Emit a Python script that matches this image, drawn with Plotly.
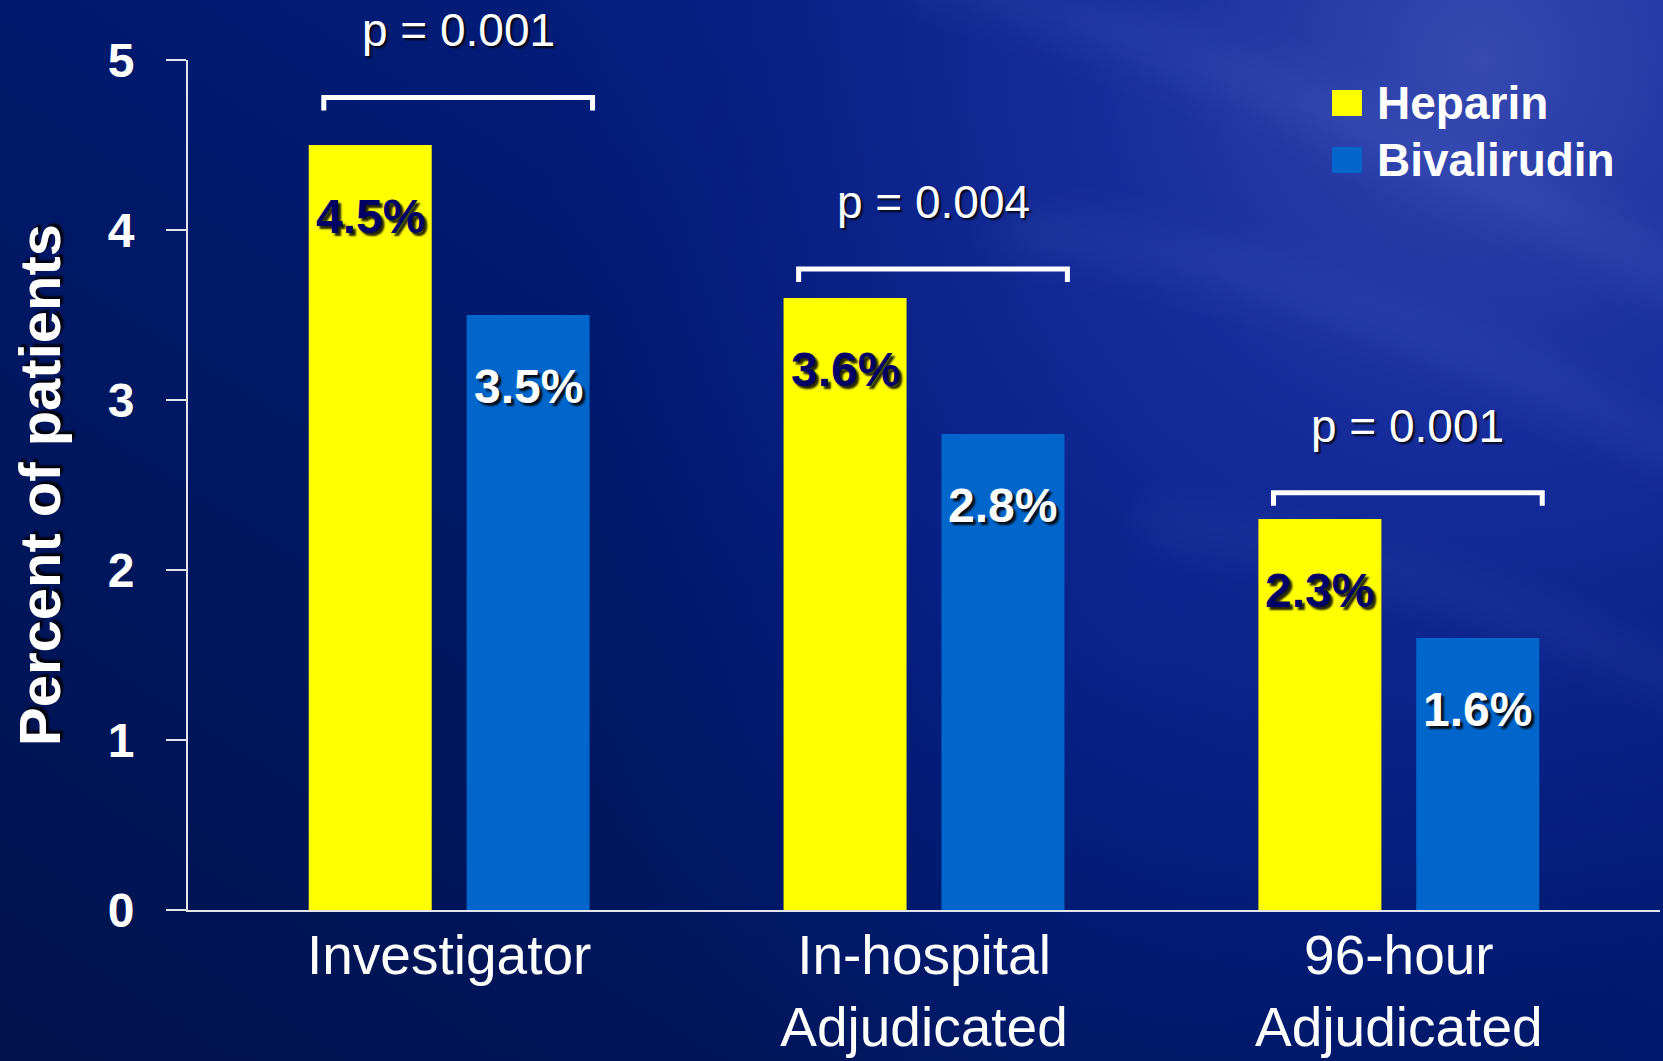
import base64
import plotly.graph_objects as go

# ---- data -------------------------------------------------------------
categories = ["Investigator", "In-hospital<br>Adjudicated", "96-hour<br>Adjudicated"]
heparin = [4.5, 3.6, 2.3]
bivalirudin = [3.5, 2.8, 1.6]
p_values = ["p = 0.001", "p = 0.004", "p = 0.001"]
y_ticks = [0, 1, 2, 3, 4, 5]

# height of each significance bracket (in axis units)
bracket_levels = [4.78, 3.77, 2.455]

# ---- geometry -----------------------------------------------------------
W, H = 1663, 1061
ML, MR, MT, MB = 188, 3, 60, 151
PW, PH = W - ML - MR, H - MT - MB
X_RANGE = [-0.55, 2.55]
Y_RANGE = [0, 5]
BARGAP = 0.335
BARGROUPGAP = 0.221
OFFSET = (1 - BARGAP) / 4          # centre offset of each bar in a group
PX_PER_Y = PH / (Y_RANGE[1] - Y_RANGE[0])

FONT = "Arial, 'Liberation Sans', Helvetica, sans-serif"
YELLOW = "#FFFF00"
BLUE = "#0066CC"
AXIS = "#e4e4ec"


def px_x(px):
    return (px - ML) / PW


def px_y(py):
    return (MT + PH - py) / PH


# ---- slide background ---------------------------------------------------
bg_svg = f"""<svg xmlns="http://www.w3.org/2000/svg" width="{W}" height="{H}" viewBox="0 0 {W} {H}">
<defs>
<linearGradient id="base" x1="0" y1="1" x2="1" y2="0">
<stop offset="0" stop-color="#00134c"/>
<stop offset="0.45" stop-color="#001868"/>
<stop offset="1" stop-color="#0a2394"/>
</linearGradient>
<radialGradient id="glow" cx="1480" cy="60" r="950" gradientUnits="userSpaceOnUse">
<stop offset="0" stop-color="#3a4cb2" stop-opacity="0.95"/>
<stop offset="0.4" stop-color="#1e32a6" stop-opacity="0.7"/>
<stop offset="1" stop-color="#0b2090" stop-opacity="0"/>
</radialGradient>
<radialGradient id="mid" cx="1150" cy="600" r="600" gradientUnits="userSpaceOnUse">
<stop offset="0" stop-color="#0a2496" stop-opacity="0.6"/>
<stop offset="1" stop-color="#0a2496" stop-opacity="0"/>
</radialGradient>
<filter id="soft" x="-20%" y="-20%" width="140%" height="140%"><feGaussianBlur stdDeviation="20"/></filter>
</defs>
<rect width="{W}" height="{H}" fill="url(#base)"/>
<rect width="{W}" height="{H}" fill="url(#mid)"/>
<rect width="{W}" height="{H}" fill="url(#glow)"/>
<g filter="url(#soft)" fill="none" stroke="#8ea2f0" stroke-opacity="0.09">
<path d="M 900 -40 C 1150 40, 1400 120, 1720 300" stroke-width="50"/>
<path d="M 1000 230 C 1250 250, 1450 330, 1720 470" stroke-width="40"/>
<path d="M 1150 520 C 1350 540, 1500 600, 1720 700" stroke-width="30"/>
</g>
</svg>"""
bg_uri = "data:image/svg+xml;base64," + base64.b64encode(bg_svg.encode()).decode()

# ---- bars ---------------------------------------------------------------
x_pos = list(range(len(categories)))
fig = go.Figure()
fig.add_trace(go.Bar(x=x_pos, y=heparin, name="Heparin",
                     marker=dict(color=YELLOW, line=dict(width=0)), showlegend=False))
fig.add_trace(go.Bar(x=x_pos, y=bivalirudin, name="Bivalirudin",
                     marker=dict(color=BLUE, line=dict(width=0)), showlegend=False))

shapes = []
annotations = []

# value labels inside the bars
for i, v in enumerate(heparin):
    annotations.append(dict(
        x=i - OFFSET, y=v, xref="x", yref="y", yshift=-71, showarrow=False,
        text=f"{v:.1f}%", yanchor="middle",
        font=dict(family=FONT, size=48, weight="bold", color="#000066",
                  shadow="3px 3px 2px rgba(0,0,0,0.85)")))
for i, v in enumerate(bivalirudin):
    annotations.append(dict(
        x=i + OFFSET, y=v, xref="x", yref="y", yshift=-71, showarrow=False,
        text=f"{v:.1f}%", yanchor="middle",
        font=dict(family=FONT, size=48, weight="bold", color="white",
                  shadow="3px 3px 2px rgba(0,0,0,0.85)")))

# significance brackets with p-values
drop = 13 / PX_PER_Y
for i, (lvl, ptxt) in enumerate(zip(bracket_levels, p_values)):
    x0, x1 = i - 0.264, i + 0.302
    shapes.append(dict(
        type="path", xref="x", yref="y",
        path=f"M {x0},{lvl - drop} L {x0},{lvl} L {x1},{lvl} L {x1},{lvl - drop}",
        line=dict(color="white", width=5), layer="above"))
    annotations.append(dict(
        x=(x0 + x1) / 2, y=lvl, xref="x", yref="y", yshift=67, showarrow=False,
        text=ptxt, yanchor="middle",
        font=dict(family=FONT, size=46, color="white",
                  shadow="2px 2px 2px rgba(0,0,0,0.8)")))

# boundary ticks at both ends of the category axis
for xp in (0, 1):
    shapes.append(dict(type="line", xref="paper", yref="y", x0=xp, x1=xp,
                       y0=0, y1=-18 / PX_PER_Y, line=dict(color=AXIS, width=2)))

# legend
legend_items = [("Heparin", YELLOW, 90, 116), ("Bivalirudin", BLUE, 147, 173)]
for name, color, top, bottom in legend_items:
    shapes.append(dict(type="rect", xref="paper", yref="paper",
                       x0=px_x(1332), x1=px_x(1362), y0=px_y(bottom), y1=px_y(top),
                       fillcolor=color, line=dict(width=0)))
    annotations.append(dict(
        x=px_x(1375), y=px_y((top + bottom) / 2), xref="paper", yref="paper",
        xanchor="left", yanchor="middle", showarrow=False, text=name,
        font=dict(family=FONT, size=46, weight="bold", color="white")))

fig.update_layout(
    width=W, height=H,
    margin=dict(l=ML, r=MR, t=MT, b=MB, autoexpand=False),
    paper_bgcolor="#00166a",
    plot_bgcolor="rgba(0,0,0,0)",
    barmode="group", bargap=BARGAP, bargroupgap=BARGROUPGAP,
    showlegend=False,
    images=[dict(source=bg_uri, xref="paper", yref="paper",
                 x=-ML / PW, y=1 + MT / PH, sizex=W / PW, sizey=H / PH,
                 xanchor="left", yanchor="top", sizing="stretch", layer="below")],
    shapes=shapes,
    annotations=annotations,
    xaxis=dict(
        range=X_RANGE, tickmode="array", tickvals=x_pos, ticktext=categories,
        showgrid=False, zeroline=False, showline=True, linecolor=AXIS, linewidth=2,
        ticks="", ticklabelstandoff=-4, automargin=False,
        tickfont=dict(family=FONT, size=55, color="white")),
    yaxis=dict(
        range=Y_RANGE, tickmode="array", tickvals=y_ticks,
        showgrid=False, zeroline=False, showline=True, linecolor=AXIS, linewidth=2,
        ticks="outside", ticklen=20, tickwidth=2, tickcolor=AXIS,
        ticklabelstandoff=22, automargin=False,
        tickfont=dict(family=FONT, size=48, weight="bold", color="white"),
        title=dict(text="Percent of patients", standoff=28,
                   font=dict(family=FONT, size=58, weight="bold", color="white",
                             shadow="3px 3px 2px rgba(0,0,0,0.85)"))),
)

fig.write_html("out.html")
